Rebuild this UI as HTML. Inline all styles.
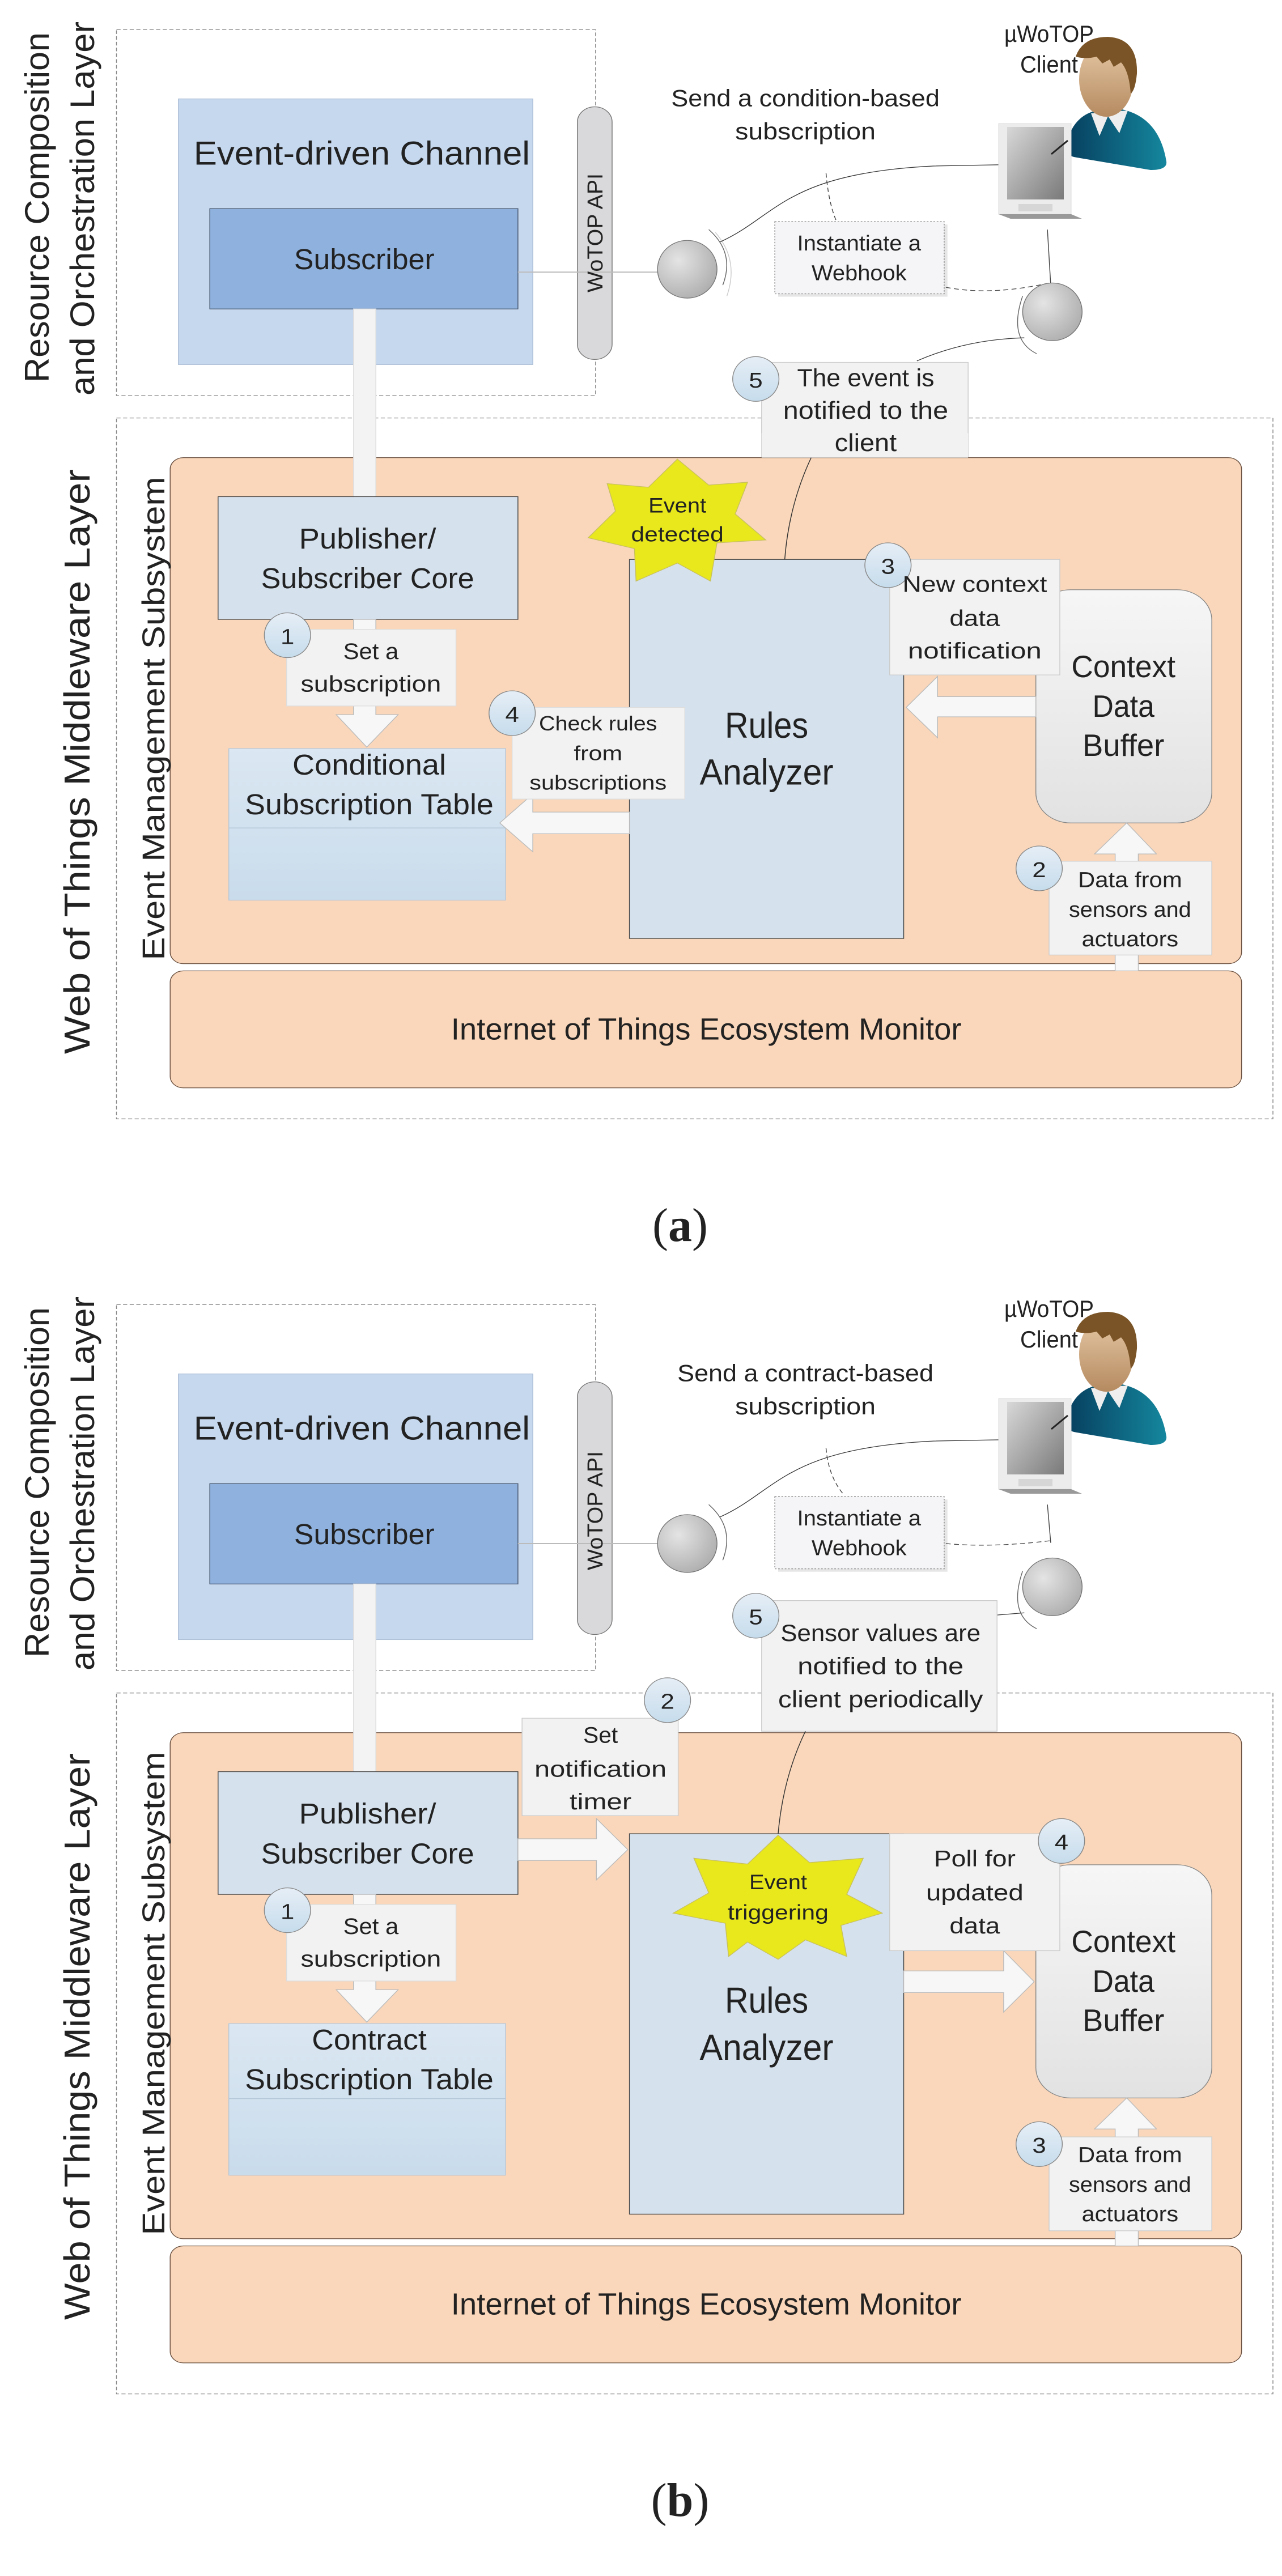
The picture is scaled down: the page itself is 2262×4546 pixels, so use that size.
<!DOCTYPE html>
<html><head><meta charset="utf-8"><style>html,body{margin:0;padding:0;background:#fff}svg{display:block}text{font-family:"Liberation Sans",sans-serif;fill:#222}</style></head>
<body>
<svg xmlns="http://www.w3.org/2000/svg" width="2262" height="4546" viewBox="0 0 2262 4546">
<defs>
<linearGradient id="gc" x1="0" y1="0" x2="0" y2="1"><stop offset="0" stop-color="#f6f6f6"/><stop offset="1" stop-color="#e2e2e2"/></linearGradient>
<radialGradient id="gball" cx="0.35" cy="0.35" r="0.8"><stop offset="0" stop-color="#e4e4e4"/><stop offset="1" stop-color="#a8a8a8"/></radialGradient>
<linearGradient id="gtab" x1="0" y1="0" x2="0" y2="1"><stop offset="0" stop-color="#dbe7f2"/><stop offset="1" stop-color="#c9dcec"/></linearGradient>
<linearGradient id="gnum" x1="0" y1="0" x2="0" y2="1"><stop offset="0" stop-color="#e6eef6"/><stop offset="1" stop-color="#c6dcec"/></linearGradient>
<linearGradient id="gscr" x1="0" y1="0" x2="1" y2="1"><stop offset="0" stop-color="#d8d8d8"/><stop offset="1" stop-color="#7a7a7a"/></linearGradient>
<linearGradient id="gface" x1="0" y1="0" x2="0" y2="1"><stop offset="0" stop-color="#e6c9a6"/><stop offset="1" stop-color="#b58a60"/></linearGradient>
<linearGradient id="gbody" x1="0" y1="0" x2="1" y2="0"><stop offset="0" stop-color="#063e5e"/><stop offset="1" stop-color="#15879e"/></linearGradient>
</defs>

<!-- ========== (a) ========== -->
<g transform="scale(1.4575,1.2739)">
<rect x="141" y="41" width="580" height="507" fill="none" stroke="#888" stroke-width="1" stroke-dasharray="5,3"/>
<rect x="141" y="579" width="1400" height="971" fill="none" stroke="#888" stroke-width="1" stroke-dasharray="5,3"/>
<rect x="216" y="137" width="429" height="368" fill="#c6d8ee" stroke="#aebfd6"/>
<text x="438" y="228" font-size="46" text-anchor="middle" textLength="407" lengthAdjust="spacingAndGlyphs">Event-driven Channel</text>
<rect x="254" y="289" width="373" height="139" fill="#8fb1dd" stroke="#4a5a70"/>
<text x="441" y="373" font-size="40" text-anchor="middle" textLength="170" lengthAdjust="spacingAndGlyphs">Subscriber</text>
<rect x="699" y="148" width="42" height="350" rx="21" fill="#d9d9db" stroke="#777"/>
<line x1="627" y1="377" x2="796" y2="377" stroke="#bbb" stroke-width="1.5"/>
<ellipse cx="832" cy="373" rx="36" ry="40" fill="url(#gball)" stroke="#777"/>
<path d="M858 318 Q890 350 875 395" fill="none" stroke="#666"/>
<path d="M866 322 Q895 360 880 410" fill="none" stroke="#ccc"/>
<path d="M872 335 C940 300 950 240 1130 230 L1222 228" fill="none" stroke="#333" stroke-width="1"/>
<text x="975" y="147" font-size="33" text-anchor="middle" textLength="325" lengthAdjust="spacingAndGlyphs">Send a condition-based</text>
<text x="975" y="193" font-size="33" text-anchor="middle" textLength="170" lengthAdjust="spacingAndGlyphs">subscription</text>
<path d="M1000 240 Q1003 280 1012 305" fill="none" stroke="#444" stroke-dasharray="6,4"/>
<rect x="942" y="311" width="205" height="100" fill="#e6e6e6"/>
<rect x="938" y="307" width="205" height="100" fill="#f5f5f7" stroke="#888" stroke-dasharray="2,2"/>
<text x="1040" y="347" font-size="30" text-anchor="middle" textLength="150" lengthAdjust="spacingAndGlyphs">Instantiate a</text>
<text x="1040" y="388" font-size="30" text-anchor="middle" textLength="115" lengthAdjust="spacingAndGlyphs">Webhook</text>
<path d="M1145 398 Q1200 410 1270 392" fill="none" stroke="#444" stroke-dasharray="6,4"/>
<line x1="1268" y1="318" x2="1272" y2="395" stroke="#444"/>
<ellipse cx="1274" cy="432" rx="36" ry="40" fill="url(#gball)" stroke="#777"/>
<path d="M1238 410 Q1220 470 1255 490" fill="none" stroke="#666"/>
<path d="M1110 500 Q1170 470 1240 468" fill="none" stroke="#333"/>
<rect x="922" y="502" width="250" height="132" fill="#f2f2f2" stroke="#ccc"/>
<ellipse cx="915" cy="525" rx="28" ry="31" fill="url(#gnum)" stroke="#888"/>
<text x="915" y="537" font-size="30" text-anchor="middle">5</text>
<text x="1048" y="535" font-size="34" text-anchor="middle" textLength="166" lengthAdjust="spacingAndGlyphs">The event is</text>
<text x="1048" y="580" font-size="34" text-anchor="middle" textLength="200" lengthAdjust="spacingAndGlyphs">notified to the</text>
<text x="1048" y="625" font-size="34" text-anchor="middle" textLength="75" lengthAdjust="spacingAndGlyphs">client</text>
<rect x="206" y="634" width="1297" height="701" rx="16" fill="#fad7ba" stroke="#6a5040"/>
<rect x="922" y="600" width="250" height="34" fill="#f2f2f2"/>
<text x="1048" y="625" font-size="34" text-anchor="middle" textLength="75" lengthAdjust="spacingAndGlyphs">client</text>
<rect x="206" y="1345" width="1297" height="162" rx="16" fill="#fad7ba" stroke="#6a5040"/>
<text x="855" y="1440" font-size="42" text-anchor="middle" textLength="618" lengthAdjust="spacingAndGlyphs">Internet of Things Ecosystem Monitor</text>
<rect x="428" y="428" width="27" height="262" fill="#f3f3f3" stroke="#ddd"/>
<path d="M982 634 Q955 700 950 775" fill="none" stroke="#333"/>
<rect x="264" y="688" width="363" height="170" fill="#d5e1ed" stroke="#444"/>
<text x="445" y="760" font-size="40" text-anchor="middle" textLength="166" lengthAdjust="spacingAndGlyphs">Publisher/</text>
<text x="445" y="815" font-size="40" text-anchor="middle" textLength="258" lengthAdjust="spacingAndGlyphs">Subscriber Core</text>
<polygon points="428,858 455,858 455,990 482,990 444,1035 407,990 428,990" fill="#f7f7f7" stroke="#bbb"/>
<rect x="277" y="1037" width="335" height="210" fill="url(#gtab)" stroke="#b8c8d8"/>
<line x1="277" y1="1147" x2="612" y2="1147" stroke="#b0c4d6"/>
<text x="447" y="1073" font-size="40" text-anchor="middle" textLength="186" lengthAdjust="spacingAndGlyphs">Conditional</text>
<text x="447" y="1128" font-size="40" text-anchor="middle" textLength="301" lengthAdjust="spacingAndGlyphs">Subscription Table</text>
<rect x="347" y="872" width="205" height="106" fill="#f2f2f2" stroke="#ddd"/>
<ellipse cx="348" cy="880" rx="28" ry="31" fill="url(#gnum)" stroke="#888"/>
<text x="348" y="892" font-size="30" text-anchor="middle">1</text>
<text x="449" y="913" font-size="31" text-anchor="middle" textLength="67" lengthAdjust="spacingAndGlyphs">Set a</text>
<text x="449" y="958" font-size="31" text-anchor="middle" textLength="170" lengthAdjust="spacingAndGlyphs">subscription</text>
<rect x="762" y="775" width="332" height="525" fill="#d5e1ed" stroke="#444"/>
<text x="928" y="1022" font-size="50" text-anchor="middle" textLength="101" lengthAdjust="spacingAndGlyphs">Rules</text>
<text x="928" y="1087" font-size="50" text-anchor="middle" textLength="162" lengthAdjust="spacingAndGlyphs">Analyzer</text>
<polygon points="762,1125 645,1125 645,1100 605,1140 645,1180 645,1155 762,1155" fill="#f7f7f7" stroke="#bbb"/>
<rect x="620" y="980" width="209" height="127" fill="#f2f2f2" stroke="#ddd"/>
<ellipse cx="620" cy="988" rx="28" ry="31" fill="url(#gnum)" stroke="#888"/>
<text x="620" y="1000" font-size="30" text-anchor="middle">4</text>
<text x="724" y="1012" font-size="28" text-anchor="middle" textLength="143" lengthAdjust="spacingAndGlyphs">Check rules</text>
<text x="724" y="1053" font-size="28" text-anchor="middle" textLength="59" lengthAdjust="spacingAndGlyphs">from</text>
<text x="724" y="1094" font-size="28" text-anchor="middle" textLength="166" lengthAdjust="spacingAndGlyphs">subscriptions</text>
<polygon points="820,636 858,672 905,668 890,712 927,748 868,752 860,805 820,780 770,805 768,760 712,745 745,708 735,670 785,675" fill="#e8e81c" stroke="#c8c060"/>
<text x="820" y="710" font-size="29" text-anchor="middle" textLength="70" lengthAdjust="spacingAndGlyphs">Event</text>
<text x="820" y="750" font-size="29" text-anchor="middle" textLength="112" lengthAdjust="spacingAndGlyphs">detected</text>
<rect x="1254" y="817" width="213" height="323" rx="42" fill="url(#gc)" stroke="#888"/>
<text x="1360" y="938" font-size="43" text-anchor="middle" textLength="126" lengthAdjust="spacingAndGlyphs">Context</text>
<text x="1360" y="993" font-size="43" text-anchor="middle" textLength="75" lengthAdjust="spacingAndGlyphs">Data</text>
<text x="1360" y="1047" font-size="43" text-anchor="middle" textLength="99" lengthAdjust="spacingAndGlyphs">Buffer</text>
<polygon points="1254,965 1135,965 1135,937 1097,980 1135,1022 1135,993 1254,993" fill="#f7f7f7" stroke="#bbb"/>
<rect x="1077" y="775" width="206" height="160" fill="#f2f2f2" stroke="#ccc"/>
<ellipse cx="1075" cy="783" rx="28" ry="31" fill="url(#gnum)" stroke="#888"/>
<text x="1075" y="795" font-size="30" text-anchor="middle">3</text>
<text x="1180" y="820" font-size="31" text-anchor="middle" textLength="175" lengthAdjust="spacingAndGlyphs">New context</text>
<text x="1180" y="867" font-size="31" text-anchor="middle" textLength="61" lengthAdjust="spacingAndGlyphs">data</text>
<text x="1180" y="912" font-size="31" text-anchor="middle" textLength="162" lengthAdjust="spacingAndGlyphs">notification</text>
<polygon points="1350,1345 1378,1345 1378,1183 1400,1183 1364,1140 1325,1183 1350,1183" fill="#f7f7f7" stroke="#bbb"/>
<rect x="1270" y="1193" width="197" height="130" fill="#f2f2f2" stroke="#ccc"/>
<ellipse cx="1258" cy="1203" rx="28" ry="31" fill="url(#gnum)" stroke="#888"/>
<text x="1258" y="1215" font-size="30" text-anchor="middle">2</text>
<text x="1368" y="1229" font-size="30" text-anchor="middle" textLength="126" lengthAdjust="spacingAndGlyphs">Data from</text>
<text x="1368" y="1270" font-size="30" text-anchor="middle" textLength="148" lengthAdjust="spacingAndGlyphs">sensors and</text>
<text x="1368" y="1311" font-size="30" text-anchor="middle" textLength="117" lengthAdjust="spacingAndGlyphs">actuators</text>
</g>

<!-- ========== (b) ========== -->
<g transform="translate(0,2245) scale(1.4575,1.2739)">
<rect x="141" y="45" width="580" height="507" fill="none" stroke="#888" stroke-width="1" stroke-dasharray="5,3"/>
<rect x="141" y="583" width="1400" height="971" fill="none" stroke="#888" stroke-width="1" stroke-dasharray="5,3"/>
<rect x="216" y="141" width="429" height="368" fill="#c6d8ee" stroke="#aebfd6"/>
<text x="438" y="232" font-size="46" text-anchor="middle" textLength="407" lengthAdjust="spacingAndGlyphs">Event-driven Channel</text>
<rect x="254" y="293" width="373" height="139" fill="#8fb1dd" stroke="#4a5a70"/>
<text x="441" y="377" font-size="40" text-anchor="middle" textLength="170" lengthAdjust="spacingAndGlyphs">Subscriber</text>
<rect x="699" y="152" width="42" height="350" rx="21" fill="#d9d9db" stroke="#777"/>
<line x1="627" y1="376" x2="796" y2="376" stroke="#bbb" stroke-width="1.5"/>
<ellipse cx="832" cy="376" rx="36" ry="40" fill="url(#gball)" stroke="#777"/>
<path d="M858 322 Q890 354 875 399" fill="none" stroke="#666"/>
<path d="M872 339 C940 304 950 244 1130 234 L1222 232" fill="none" stroke="#333" stroke-width="1"/>
<text x="975" y="151" font-size="33" text-anchor="middle" textLength="310" lengthAdjust="spacingAndGlyphs">Send a contract-based</text>
<text x="975" y="197" font-size="33" text-anchor="middle" textLength="170" lengthAdjust="spacingAndGlyphs">subscription</text>
<path d="M1000 244 Q1003 284 1022 309" fill="none" stroke="#444" stroke-dasharray="6,4"/>
<rect x="942" y="315" width="205" height="100" fill="#e6e6e6"/>
<rect x="938" y="311" width="205" height="100" fill="#f5f5f7" stroke="#888" stroke-dasharray="2,2"/>
<text x="1040" y="351" font-size="30" text-anchor="middle" textLength="150" lengthAdjust="spacingAndGlyphs">Instantiate a</text>
<text x="1040" y="392" font-size="30" text-anchor="middle" textLength="115" lengthAdjust="spacingAndGlyphs">Webhook</text>
<path d="M1145 376 Q1200 382 1272 372" fill="none" stroke="#444" stroke-dasharray="6,4"/>
<line x1="1268" y1="322" x2="1272" y2="375" stroke="#444"/>
<ellipse cx="1274" cy="436" rx="36" ry="40" fill="url(#gball)" stroke="#777"/>
<path d="M1238 414 Q1220 474 1255 494" fill="none" stroke="#666"/>
<path d="M1207 475 L1240 472" fill="none" stroke="#333"/>
<rect x="206" y="638" width="1297" height="701" rx="16" fill="#fad7ba" stroke="#6a5040"/>
<rect x="206" y="1349" width="1297" height="162" rx="16" fill="#fad7ba" stroke="#6a5040"/>
<text x="855" y="1444" font-size="42" text-anchor="middle" textLength="618" lengthAdjust="spacingAndGlyphs">Internet of Things Ecosystem Monitor</text>
<rect x="922" y="455" width="285" height="181" fill="#f2f2f2" stroke="#ccc"/>
<ellipse cx="915" cy="476" rx="28" ry="31" fill="url(#gnum)" stroke="#888"/>
<text x="915" y="488" font-size="30" text-anchor="middle">5</text>
<text x="1066" y="511" font-size="33" text-anchor="middle" textLength="242" lengthAdjust="spacingAndGlyphs">Sensor values are</text>
<text x="1066" y="557" font-size="33" text-anchor="middle" textLength="201" lengthAdjust="spacingAndGlyphs">notified to the</text>
<text x="1066" y="603" font-size="33" text-anchor="middle" textLength="248" lengthAdjust="spacingAndGlyphs">client periodically</text>
<rect x="428" y="432" width="27" height="260" fill="#f3f3f3" stroke="#ddd"/>
<path d="M975 636 Q948 700 942 778" fill="none" stroke="#333"/>
<rect x="264" y="692" width="363" height="170" fill="#d5e1ed" stroke="#444"/>
<text x="445" y="764" font-size="40" text-anchor="middle" textLength="166" lengthAdjust="spacingAndGlyphs">Publisher/</text>
<text x="445" y="819" font-size="40" text-anchor="middle" textLength="258" lengthAdjust="spacingAndGlyphs">Subscriber Core</text>
<polygon points="627,785 722,785 722,757 760,800 722,842 722,815 627,815" fill="#f7f7f7" stroke="#bbb"/>
<rect x="632" y="618" width="189" height="135" fill="#f2f2f2" stroke="#ccc"/>
<ellipse cx="808" cy="593" rx="28" ry="31" fill="url(#gnum)" stroke="#888"/>
<text x="808" y="605" font-size="30" text-anchor="middle">2</text>
<text x="727" y="652" font-size="31" text-anchor="middle" textLength="42" lengthAdjust="spacingAndGlyphs">Set</text>
<text x="727" y="699" font-size="31" text-anchor="middle" textLength="160" lengthAdjust="spacingAndGlyphs">notification</text>
<text x="727" y="744" font-size="31" text-anchor="middle" textLength="75" lengthAdjust="spacingAndGlyphs">timer</text>
<polygon points="428,862 455,862 455,994 482,994 444,1039 407,994 428,994" fill="#f7f7f7" stroke="#bbb"/>
<rect x="277" y="1041" width="335" height="210" fill="url(#gtab)" stroke="#b8c8d8"/>
<line x1="277" y1="1145" x2="612" y2="1145" stroke="#b0c4d6"/>
<text x="447" y="1077" font-size="40" text-anchor="middle" textLength="139" lengthAdjust="spacingAndGlyphs">Contract</text>
<text x="447" y="1132" font-size="40" text-anchor="middle" textLength="301" lengthAdjust="spacingAndGlyphs">Subscription Table</text>
<rect x="347" y="876" width="205" height="106" fill="#f2f2f2" stroke="#ddd"/>
<ellipse cx="348" cy="884" rx="28" ry="31" fill="url(#gnum)" stroke="#888"/>
<text x="348" y="896" font-size="30" text-anchor="middle">1</text>
<text x="449" y="917" font-size="31" text-anchor="middle" textLength="67" lengthAdjust="spacingAndGlyphs">Set a</text>
<text x="449" y="962" font-size="31" text-anchor="middle" textLength="170" lengthAdjust="spacingAndGlyphs">subscription</text>
<rect x="762" y="778" width="332" height="527" fill="#d5e1ed" stroke="#444"/>
<text x="928" y="1026" font-size="50" text-anchor="middle" textLength="101" lengthAdjust="spacingAndGlyphs">Rules</text>
<text x="928" y="1091" font-size="50" text-anchor="middle" textLength="162" lengthAdjust="spacingAndGlyphs">Analyzer</text>
<polygon points="942,780 980,818 1045,812 1025,862 1068,888 1018,905 1025,948 975,925 942,952 905,928 882,948 878,902 815,888 858,860 840,812 905,820" fill="#e8e81c" stroke="#c8c060"/>
<text x="942" y="855" font-size="29" text-anchor="middle" textLength="70" lengthAdjust="spacingAndGlyphs">Event</text>
<text x="942" y="897" font-size="29" text-anchor="middle" textLength="122" lengthAdjust="spacingAndGlyphs">triggering</text>
<rect x="1254" y="821" width="213" height="323" rx="42" fill="url(#gc)" stroke="#888"/>
<text x="1360" y="942" font-size="43" text-anchor="middle" textLength="126" lengthAdjust="spacingAndGlyphs">Context</text>
<text x="1360" y="997" font-size="43" text-anchor="middle" textLength="75" lengthAdjust="spacingAndGlyphs">Data</text>
<text x="1360" y="1051" font-size="43" text-anchor="middle" textLength="99" lengthAdjust="spacingAndGlyphs">Buffer</text>
<polygon points="1094,968 1215,968 1215,940 1252,983 1215,1025 1215,998 1094,998" fill="#f7f7f7" stroke="#bbb"/>
<rect x="1077" y="778" width="206" height="162" fill="#f2f2f2" stroke="#ccc"/>
<ellipse cx="1285" cy="788" rx="28" ry="31" fill="url(#gnum)" stroke="#888"/>
<text x="1285" y="800" font-size="30" text-anchor="middle">4</text>
<text x="1180" y="823" font-size="31" text-anchor="middle" textLength="99" lengthAdjust="spacingAndGlyphs">Poll for</text>
<text x="1180" y="870" font-size="31" text-anchor="middle" textLength="118" lengthAdjust="spacingAndGlyphs">updated</text>
<text x="1180" y="916" font-size="31" text-anchor="middle" textLength="61" lengthAdjust="spacingAndGlyphs">data</text>
<polygon points="1350,1349 1378,1349 1378,1187 1400,1187 1364,1144 1325,1187 1350,1187" fill="#f7f7f7" stroke="#bbb"/>
<rect x="1270" y="1198" width="197" height="130" fill="#f2f2f2" stroke="#ccc"/>
<ellipse cx="1258" cy="1208" rx="28" ry="31" fill="url(#gnum)" stroke="#888"/>
<text x="1258" y="1220" font-size="30" text-anchor="middle">3</text>
<text x="1368" y="1233" font-size="30" text-anchor="middle" textLength="126" lengthAdjust="spacingAndGlyphs">Data from</text>
<text x="1368" y="1274" font-size="30" text-anchor="middle" textLength="148" lengthAdjust="spacingAndGlyphs">sensors and</text>
<text x="1368" y="1315" font-size="30" text-anchor="middle" textLength="117" lengthAdjust="spacingAndGlyphs">actuators</text>
</g>

<!-- rotated labels (original px) -->
<g font-size="60">
<text transform="translate(86,366) rotate(-90)" text-anchor="middle" textLength="618" lengthAdjust="spacingAndGlyphs">Resource Composition</text>
<text transform="translate(166,368) rotate(-90)" text-anchor="middle" textLength="660" lengthAdjust="spacingAndGlyphs">and Orchestration Layer</text>
<text transform="translate(158,1344) rotate(-90)" text-anchor="middle" font-size="64" textLength="1032" lengthAdjust="spacingAndGlyphs">Web of Things Middleware Layer</text>
<text transform="translate(290,1268) rotate(-90)" text-anchor="middle" font-size="56" textLength="853" lengthAdjust="spacingAndGlyphs">Event Management Subsystem</text>
<text transform="translate(1063,411) rotate(-90)" text-anchor="middle" font-size="38" textLength="210" lengthAdjust="spacingAndGlyphs">WoTOP API</text>
<text transform="translate(86,2616) rotate(-90)" text-anchor="middle" textLength="618" lengthAdjust="spacingAndGlyphs">Resource Composition</text>
<text transform="translate(166,2618) rotate(-90)" text-anchor="middle" textLength="660" lengthAdjust="spacingAndGlyphs">and Orchestration Layer</text>
<text transform="translate(158,3594) rotate(-90)" text-anchor="middle" font-size="64" textLength="1000" lengthAdjust="spacingAndGlyphs">Web of Things Middleware Layer</text>
<text transform="translate(290,3518) rotate(-90)" text-anchor="middle" font-size="56" textLength="853" lengthAdjust="spacingAndGlyphs">Event Management Subsystem</text>
<text transform="translate(1063,2666) rotate(-90)" text-anchor="middle" font-size="38" textLength="210" lengthAdjust="spacingAndGlyphs">WoTOP API</text>
</g>

<!-- client labels & person icons -->
<g font-size="42" text-anchor="middle">
<text x="1851" y="74" textLength="158" lengthAdjust="spacingAndGlyphs">µWoTOP</text>
<text x="1851" y="128" textLength="102" lengthAdjust="spacingAndGlyphs">Client</text>
<text x="1851" y="2324" textLength="158" lengthAdjust="spacingAndGlyphs">µWoTOP</text>
<text x="1851" y="2378" textLength="102" lengthAdjust="spacingAndGlyphs">Client</text>
</g>
<g id="p1">
<path d="M1880 262 Q1890 205 1935 195 L1975 192 Q2045 205 2058 285 Q2060 300 2030 300 L1900 278 Q1880 275 1880 262Z" fill="url(#gbody)"/>
<polygon points="1925,200 1940,240 1955,205 1975,235 1990,195" fill="#eee"/>
<ellipse cx="1952" cy="140" rx="48" ry="66" fill="url(#gface)"/>
<path d="M1898 100 Q1910 65 1955 65 Q2008 68 2006 130 Q2003 160 1995 165 Q1992 125 1978 110 L1965 118 L1958 105 L1945 112 L1935 100 Q1915 105 1898 100Z" fill="#7a5426"/>
<rect x="1762" y="218" width="128" height="160" fill="#ececec" stroke="#ddd"/>
<polygon points="1762,378 1890,378 1909,386 1783,386" fill="#999"/>
<rect x="1777" y="224" width="100" height="128" fill="url(#gscr)"/>
<rect x="1797" y="360" width="60" height="13" fill="#d6d6d6"/>
<line x1="1855" y1="272" x2="1884" y2="248" stroke="#222" stroke-width="3"/>
</g>
<g transform="translate(0,2250)">
<path d="M1880 262 Q1890 205 1935 195 L1975 192 Q2045 205 2058 285 Q2060 300 2030 300 L1900 278 Q1880 275 1880 262Z" fill="url(#gbody)"/>
<polygon points="1925,200 1940,240 1955,205 1975,235 1990,195" fill="#eee"/>
<ellipse cx="1952" cy="140" rx="48" ry="66" fill="url(#gface)"/>
<path d="M1898 100 Q1910 65 1955 65 Q2008 68 2006 130 Q2003 160 1995 165 Q1992 125 1978 110 L1965 118 L1958 105 L1945 112 L1935 100 Q1915 105 1898 100Z" fill="#7a5426"/>
<rect x="1762" y="218" width="128" height="160" fill="#ececec" stroke="#ddd"/>
<polygon points="1762,378 1890,378 1909,386 1783,386" fill="#999"/>
<rect x="1777" y="224" width="100" height="128" fill="url(#gscr)"/>
<rect x="1797" y="360" width="60" height="13" fill="#d6d6d6"/>
<line x1="1855" y1="272" x2="1884" y2="248" stroke="#222" stroke-width="3"/>
</g>

<text x="1200" y="2190" font-family="Liberation Serif,serif" font-size="84" text-anchor="middle" style="font-family:'Liberation Serif',serif">(<tspan font-weight="bold">a</tspan>)</text>
<text x="1200" y="4440" font-size="84" text-anchor="middle" style="font-family:'Liberation Serif',serif">(<tspan font-weight="bold">b</tspan>)</text>
</svg>
</body></html>
